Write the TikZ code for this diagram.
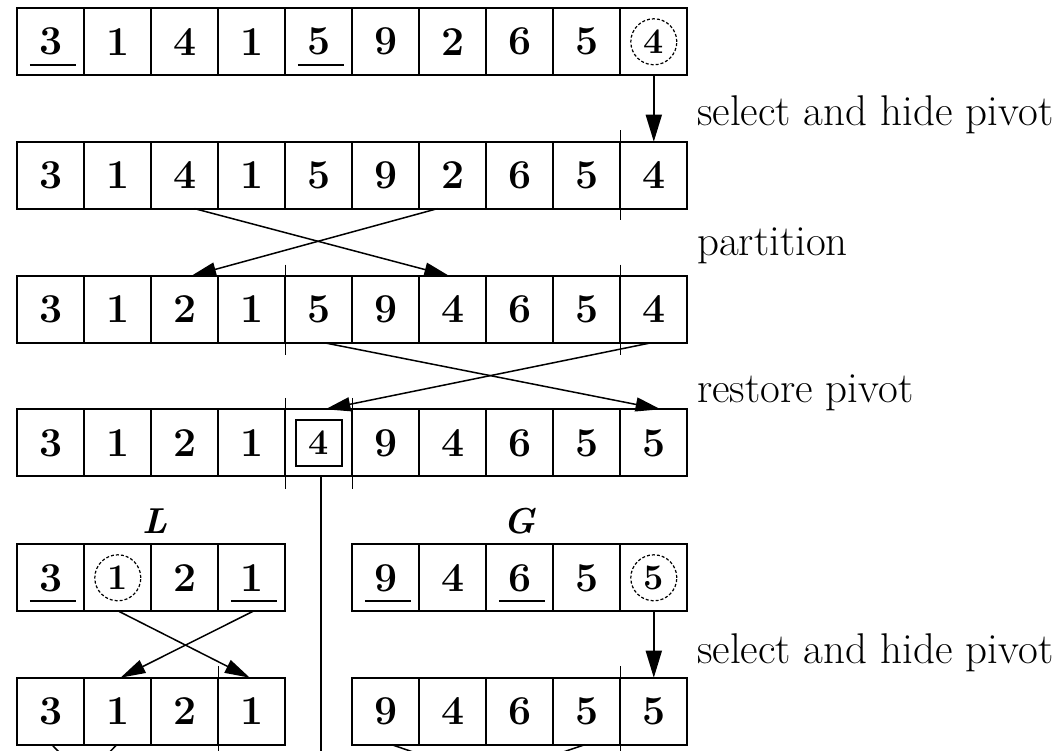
\documentclass[tikz,border=0pt]{standalone}
\usepackage{fontspec}
\usetikzlibrary{arrows.meta}
\newcommand\digitfont{\fontsize{41}{41}\selectfont\bfseries}
\newcommand\pivfont{\fontsize{36}{36}\selectfont\bfseries}
\newcommand\labfont{\fontsize{43}{43}\selectfont}
\newcommand\setfont{\fontsize{36}{36}\selectfont\bfseries\itshape}
\begin{document}
\begin{tikzpicture}[x=1pt,y=-1pt,
  cell/.style={draw, line width=2pt, minimum size=67pt, inner sep=0pt, outer sep=0pt, font=\digitfont},
  arr/.style={line width=1.8pt, -{Triangle[length=27pt,width=16pt]}},
  xarr/.style={line width=1.5pt, -{Triangle[length=25pt,width=14pt]}},
  tickln/.style={line width=1.6pt},
  uline/.style={line width=1.6pt},
  pivc/.style={draw, circle, line width=1.2pt, dash pattern=on 3pt off 2pt, minimum size=46pt, inner sep=0pt, font=\pivfont},
  pivb/.style={draw, rectangle, line width=1.8pt, minimum size=46pt, inner sep=0pt, font=\pivfont},
  lab/.style={anchor=mid west, font=\labfont, inner sep=0pt},
  setlab/.style={font=\setfont, inner sep=0pt}]
\useasboundingbox (0,0) rectangle (1064,751);
\clip (0,0) rectangle (1064,751);
% rows
\foreach \v [count=\i] in {3,1,4,1,5,9,2,6,5,{}}
  \node[cell] (a\i) at ({50.8+67*(\i-1)},41.8) {\v};
\foreach \v [count=\i] in {3,1,4,1,5,9,2,6,5,4}
  \node[cell] (b\i) at ({50.8+67*(\i-1)},175.2) {\v};
\foreach \v [count=\i] in {3,1,2,1,5,9,4,6,5,4}
  \node[cell] (c\i) at ({50.8+67*(\i-1)},309.5) {\v};
\foreach \v [count=\i] in {3,1,2,1,{},9,4,6,5,5}
  \node[cell] (d\i) at ({50.8+67*(\i-1)},442.8) {\v};
\foreach \v [count=\i] in {3,{},2,1}
  \node[cell] (e\i) at ({50.8+67*(\i-1)},577.8) {\v};
\foreach \v [count=\i] in {9,4,6,5,{}}
  \node[cell] (f\i) at ({385.8+67*(\i-1)},577.8) {\v};
\foreach \v [count=\i] in {3,1,2,1}
  \node[cell] (g\i) at ({50.8+67*(\i-1)},711.2) {\v};
\foreach \v [count=\i] in {9,4,6,5,5}
  \node[cell] (h\i) at ({385.8+67*(\i-1)},711.2) {\v};
% pivots
\node[pivc] (pa) at (a10) {4};
\node[pivb] (pd) at (d5) {4};
\node[pivc] (pe) at (e2) {1};
\node[pivc] (pf) at (f5) {5};
% underlines
\foreach \n in {a1,a5,e1,e4,f1,f3}
  \draw[uline] ([xshift=-21pt,yshift=10.5pt]\n.south) -- ([xshift=25pt,yshift=10.5pt]\n.south);
% partition ticks
\draw[tickln] ([yshift=11.5pt]b10.north west) -- ([yshift=-11.5pt]b10.south west);
\draw[tickln] ([yshift=11.5pt]c5.north west) -- ([yshift=-11.5pt]c5.south west);
\draw[tickln] ([yshift=11.5pt]c10.north west) -- ([yshift=-11.5pt]c10.south west);
\draw[tickln] ([yshift=11.5pt]d5.north west) -- ([yshift=-12.5pt]d5.south west);
\draw[tickln] ([yshift=11.5pt]d6.north west) -- ([yshift=-12.5pt]d6.south west);
\draw[tickln] ([yshift=11.5pt]g4.north west) -- ([yshift=-40pt]g4.south west);
\draw[tickln] ([yshift=11.5pt]h5.north west) -- ([yshift=-40pt]h5.south west);
\coordinate (dbot) at (320.7,770);
\draw[tickln] (d5.south -| dbot) -- (dbot);
% arrows
\draw[arr] (a10.south) -- (b10.north);
\draw[xarr] ([xshift=10pt]b3.south) -- ([xshift=-3.5pt]c7.north);
\draw[xarr] ([xshift=-15.5pt]b7.south) -- ([xshift=6.3pt]c3.north);
\draw[xarr] ([xshift=6.6pt]c5.south) -- ([xshift=6.8pt]d10.north);
\draw[xarr] ([xshift=-3.6pt]c10.south) -- ([xshift=6.6pt]d5.north);
\draw[xarr] ([xshift=1pt]e2.south) -- ([xshift=-2pt]g4.north);
\draw[xarr] ([xshift=1.2pt]e4.south) -- ([xshift=2.7pt]g2.north);
\draw[arr] (f5.south) -- (h5.north);
\draw[xarr] ([xshift=1pt]g1.south) -- ([yshift=-67pt]g2.south);
\draw[xarr] ([xshift=-1pt]g2.south) -- ([yshift=-67pt]g1.south);
\draw[xarr] ([xshift=6pt]h1.south) -- ([yshift=-67pt]h4.south);
\draw[xarr] ([xshift=-2pt]h4.south) -- ([yshift=-67pt]h1.south);
% labels
\node[lab] (l1) at (697,123) {select and hide pivot};
\node[lab] (l2) at (697,253) {partition};
\node[lab] (l3) at (697,400) {restore pivot};
\node[lab] (l4) at (697,661) {select and hide pivot};
\node[setlab] (L) at (155,521) {L};
\node[setlab] (G) at (520,521) {G};
\end{tikzpicture}
\end{document}
